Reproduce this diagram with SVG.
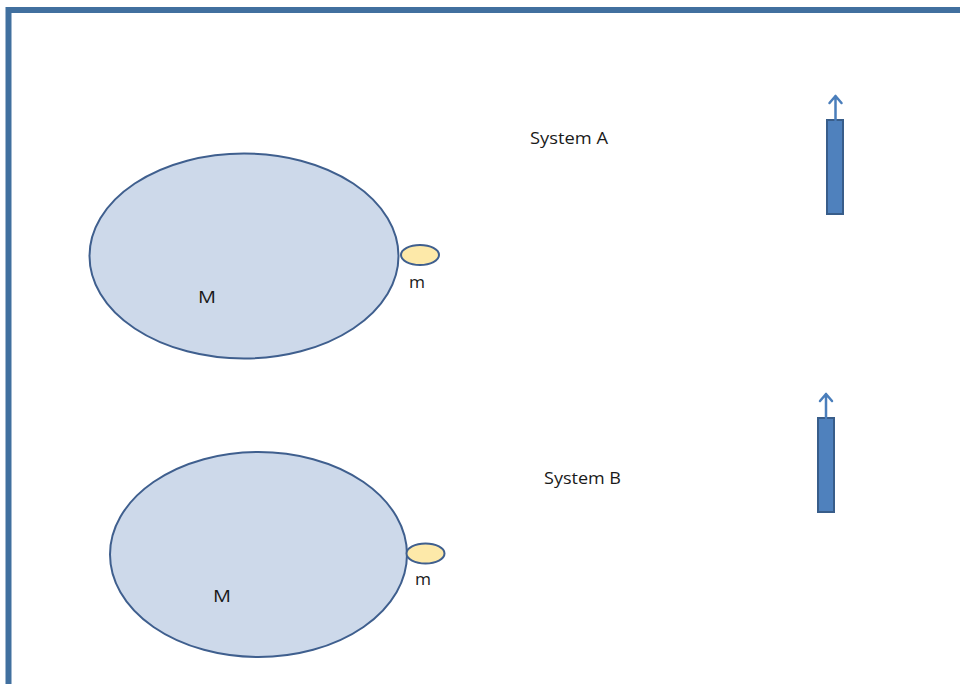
<svg xmlns="http://www.w3.org/2000/svg" width="960" height="684" viewBox="0 0 960 684">
<style>
.frame{fill:none;stroke:#41709F;stroke-width:6}
.big{fill:#CDD9EA;stroke:#3F5F8E;stroke-width:2}
.small{fill:#FDE9A9;stroke:#3F5F8E;stroke-width:2}
.bar{fill:#4F81BD;stroke:#385D8A;stroke-width:2}
.arr{fill:none;stroke:#4A7EBB;stroke-width:2.5;stroke-linecap:round;stroke-linejoin:round}
text{font-family:"Open Sans","Liberation Sans",sans-serif;font-size:16px;fill:#1a1a1a}
</style>
<rect width="960" height="684" fill="#fff"/>
<path class="frame" d="M8.5,690 V10 H970"/>
<g id="systemA">
<g id="bigA"><ellipse class="big" cx="244" cy="256" rx="154.5" ry="102.5"/><text x="198" y="303" textLength="18" lengthAdjust="spacingAndGlyphs">M</text></g>
<g id="smallA"><ellipse class="small" cx="420" cy="255" rx="19" ry="10"/><text x="409" y="288" textLength="16" lengthAdjust="spacingAndGlyphs">m</text></g>
<g id="labelA"><text x="530" y="144" textLength="78" lengthAdjust="spacingAndGlyphs">System A</text></g>
<g id="barA"><rect class="bar" x="827" y="120" width="16" height="94"/></g>
</g>
<g id="systemB">
<g id="bigB"><ellipse class="big" cx="258.5" cy="554.5" rx="148.5" ry="102.5"/><text x="213" y="602" textLength="18" lengthAdjust="spacingAndGlyphs">M</text></g>
<g id="smallB"><ellipse class="small" cx="425.5" cy="553.5" rx="19" ry="10"/><text x="415" y="585" textLength="16" lengthAdjust="spacingAndGlyphs">m</text></g>
<g id="labelB"><text x="544" y="484" textLength="77" lengthAdjust="spacingAndGlyphs">System B</text></g>
<g id="barB"><rect class="bar" x="818" y="418" width="16" height="94"/></g>
</g>
<g id="connectors">
<path class="arr" d="M835.5,120 V96 M829.5,103 L835.5,96 L841.5,103"/>
<path class="arr" d="M826,418 V394 M820,401 L826,394 L832,401"/>
</g>
</svg>
